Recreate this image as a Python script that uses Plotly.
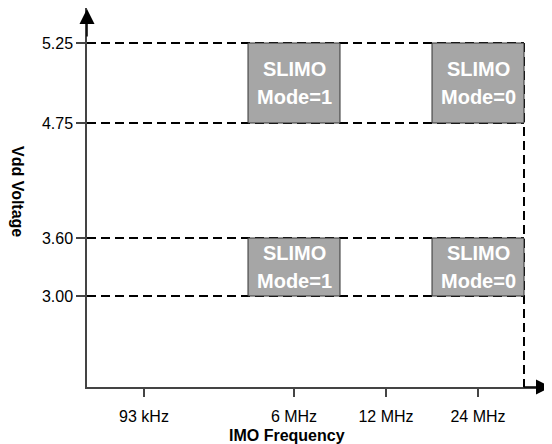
import plotly.graph_objects as go

# ---- data ----
freq_labels = ["93 kHz", "6 MHz", "12 MHz", "24 MHz"]
volt_values = [3.00, 3.60, 4.75, 5.25]
volt_labels = ["3.00", "3.60", "4.75", "5.25"]

box_freq = ["6 MHz", "24 MHz", "6 MHz", "24 MHz"]
box_v_low = [4.75, 4.75, 3.00, 3.00]
box_v_high = [5.25, 5.25, 3.60, 3.60]
box_mode = [1, 0, 1, 0]

# ---- schematic axis layout (non-linear, drawn positions of the categories) ----
freq_pos = [57, 207, 299, 391]     # x-axis slots
volt_pos = [91, 149, 264, 344]     # y-axis slots
box_half = 46
X_MAX, Y_MAX = 465, 379

fx = dict(zip(freq_labels, freq_pos))
fy = dict(zip(volt_values, volt_pos))
x_right = fx["24 MHz"] + box_half

FONT = "Liberation Sans, Arial, sans-serif"

fig = go.Figure()
fig.add_trace(go.Scatter(x=[None], y=[None], showlegend=False, hoverinfo="skip"))

shapes = []
dash = "9px,5px"
for v in volt_values:
    shapes.append(dict(type="line", xref="x", yref="y", x0=0, x1=x_right, y0=fy[v], y1=fy[v],
                       line=dict(color="black", width=2, dash=dash), layer="above"))
shapes.append(dict(type="line", xref="x", yref="y", x0=x_right, x1=x_right, y0=fy[max(volt_values)], y1=0,
                   line=dict(color="black", width=2, dash=dash), layer="above"))

annotations = []
for f, lo, hi, m in zip(box_freq, box_v_low, box_v_high, box_mode):
    cx = fx[f]
    shapes.append(dict(type="rect", xref="x", yref="y", x0=cx - box_half, x1=cx + box_half,
                       y0=fy[lo], y1=fy[hi], fillcolor="#A6A6A6",
                       line=dict(color="#333333", width=1), layer="above"))
    cy = (fy[lo] + fy[hi]) / 2
    for txt, sh in (("SLIMO", 14), ("Mode=%d" % m, -14)):
        annotations.append(dict(x=cx, y=cy, xref="x", yref="y", text="<b>%s</b>" % txt,
                                showarrow=False, yshift=sh, xanchor="center", yanchor="middle",
                                font=dict(family=FONT, size=20, color="white")))

# arrowheads
annotations.append(dict(x=0, y=1, xref="paper", yref="paper", ax=0, ay=30, axref="pixel", ayref="pixel",
                        text="", showarrow=True, arrowhead=2, arrowsize=2, arrowwidth=1.5,
                        arrowcolor="black"))
annotations.append(dict(x=1, y=0, xref="paper", yref="paper", ax=-30, ay=0, axref="pixel", ayref="pixel",
                        text="", showarrow=True, arrowhead=2, arrowsize=2, arrowwidth=1.5,
                        arrowcolor="black"))

# axis titles
annotations.append(dict(x=200, y=0, xref="x", yref="paper", yshift=-48, text="<b>IMO Frequency</b>",
                        showarrow=False, xanchor="center", yanchor="middle",
                        font=dict(family=FONT, size=16, color="black")))
annotations.append(dict(x=0, y=196, xref="paper", yref="y", xshift=-69, text="<b>Vdd Voltage</b>",
                        showarrow=False, textangle=90, xanchor="center", yanchor="middle",
                        font=dict(family=FONT, size=16, color="black")))

fig.update_layout(
    width=544, height=436,
    margin=dict(l=79, r=0, t=0, b=57),
    paper_bgcolor="white", plot_bgcolor="white",
    showlegend=False,
    shapes=shapes, annotations=annotations,
    font=dict(family=FONT, size=16, color="black"),
    xaxis=dict(range=[0, X_MAX], showgrid=False, zeroline=False, showline=True,
               linecolor="#444444", linewidth=1.5, tickmode="array", tickvals=freq_pos,
               ticktext=freq_labels, ticks="outside", ticklen=8, tickwidth=1.5, tickcolor="#444444",
               ticklabelstandoff=6, fixedrange=True),
    yaxis=dict(range=[0, Y_MAX], showgrid=False, zeroline=False, showline=True,
               linecolor="#444444", linewidth=1.5, tickmode="array", tickvals=volt_pos,
               ticktext=volt_labels, ticks="outside", ticklen=9, tickwidth=1.5, tickcolor="#444444",
               fixedrange=True),
)

fig.write_html("out.html")
